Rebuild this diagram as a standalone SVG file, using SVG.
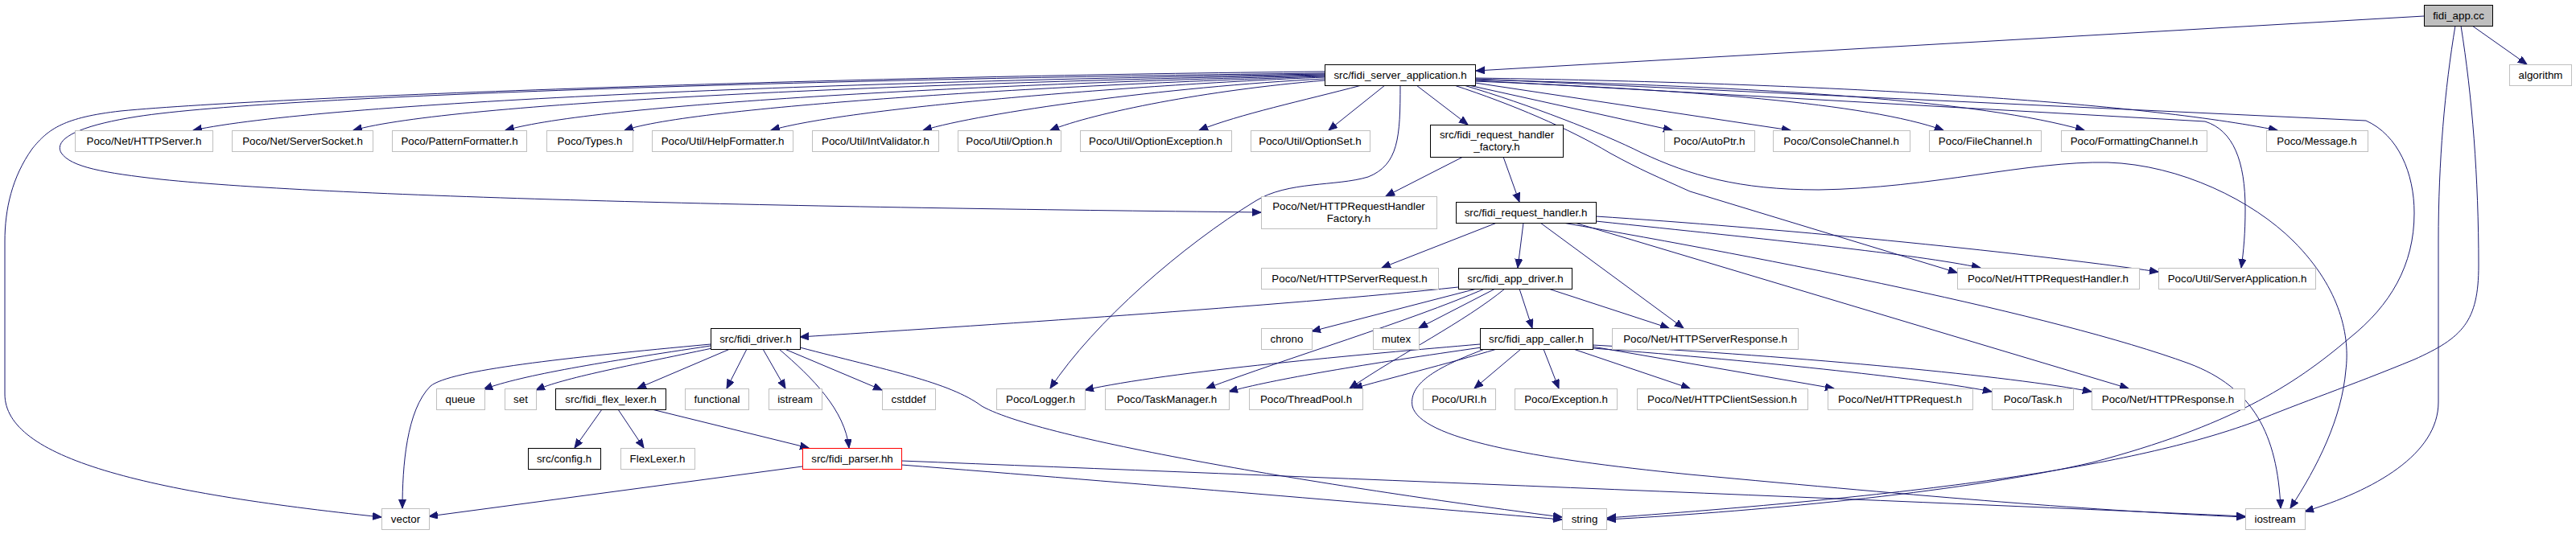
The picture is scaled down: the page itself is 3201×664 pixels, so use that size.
<svg xmlns="http://www.w3.org/2000/svg" width="3201" height="664" viewBox="0 0 3201 664">
<style>
text{font-family:"Liberation Sans",Arial,Helvetica,sans-serif;font-size:13.33px;text-anchor:middle;fill:#000}
.n rect{fill:#fff;stroke:#bfbfbf;stroke-width:1}
.s rect{fill:#fff;stroke:#000;stroke-width:1}
.r rect{fill:#bfbfbf;stroke:#000;stroke-width:1}
.t rect{fill:#fff;stroke:#ff0000;stroke-width:1}
#edges path{fill:none;stroke:#191970;stroke-width:1;marker-end:url(#a)}
</style>
<defs>
<marker id="a" markerWidth="12" markerHeight="10" refX="11" refY="4.5" orient="auto" markerUnits="userSpaceOnUse"><path d="M0,0 L11,4.5 L0,9 z" fill="#191970" stroke="#191970" stroke-width="1"/></marker>
</defs>
<rect width="3201" height="664" fill="#fff"/>
<g id="edges">
<path d="M3012,20 L1834,88"/>
<path d="M3072,32 L3140,80"/>
<path d="M3051,32 C3038,110 3030,200 3030,300 L3030,500 C3030,565 2950,610 2864,636"/>
<path d="M3058,32 C3072,120 3080,220 3080,330 C3080,400 3060,420 3000,447 C2920,480 2860,500 2800,525 C2650,580 2400,615 1997,644"/>
<path d="M1646,92 C1000,102 400,128 240,162"/>
<path d="M1646,93 C1100,104 560,128 439,162"/>
<path d="M1646,94 C1200,105 740,130 628,162"/>
<path d="M1646,95 C1300,106 860,133 776,162"/>
<path d="M1646,96 C1400,106 1050,135 958,162"/>
<path d="M1646,98 C1450,108 1220,140 1147,162"/>
<path d="M1646,100 C1500,112 1360,140 1305,162"/>
<path d="M1692,106 C1620,125 1540,142 1490,162"/>
<path d="M1721,106 L1651,162"/>
<path d="M1760,106 L1824,155"/>
<path d="M1825,106 L2078,162"/>
<path d="M1833,103 L2225,162"/>
<path d="M1833,101 C2100,112 2320,128 2415,162"/>
<path d="M1833,99 C2200,108 2460,125 2590,162"/>
<path d="M1833,97 C2300,104 2660,128 2830,162"/>
<path d="M1646,91 C1100,97 350,117 170,145 C100,156 66,172 76,190 C88,208 130,215 200,223 C420,246 1000,258 1567,264"/>
<path d="M1646,89 C1100,94 350,119 150,138 C80,146 60,160 40,185 C15,220 6,260 6,300 L6,490 C6,570 180,612 474,643"/>
<path d="M1740,106 C1740,170 1738,205 1700,220 C1660,232 1600,225 1560,250 C1470,305 1360,400 1305,483"/>
<path d="M1807,106 C1880,130 1950,160 2000,190 C2040,212 2060,220 2100,238 L2432,339"/>
<path d="M1819,106 C1900,130 1990,165 2040,190 C2100,218 2160,236 2260,236 C2400,234 2520,200 2619,202 C2710,205 2800,250 2850,300 C2910,360 2920,420 2915,460 C2910,520 2880,580 2846,632"/>
<path d="M1833,100 L2740,151 C2775,162 2790,200 2790,260 C2790,290 2788,312 2785,333"/>
<path d="M1833,98 L2940,150 C2980,168 3000,215 3000,265 C3000,330 2970,380 2920,420 C2850,480 2770,530 2600,575 C2450,610 2200,635 1997,646"/>
<path d="M1818,195 L1722,244"/>
<path d="M1868,195 L1888,251"/>
<path d="M1860,277 L1717,333"/>
<path d="M1893,277 L1886,333"/>
<path d="M1914,277 L2092,408"/>
<path d="M1983,269 C2200,283 2500,312 2682,338"/>
<path d="M1983,275 C2200,298 2380,316 2461,333"/>
<path d="M1942,277 C2200,322 2550,390 2720,452 C2800,482 2830,540 2834,632"/>
<path d="M1957,277 L2645,483"/>
<path d="M1812,357 C1600,380 1200,406 994,419"/>
<path d="M1835,359 L1630,412"/>
<path d="M1858,359 L1763,408"/>
<path d="M1845,359 C1750,400 1600,445 1499,483"/>
<path d="M1870,359 C1820,400 1740,440 1677,483"/>
<path d="M1888,359 L1904,408"/>
<path d="M1924,359 L2074,408"/>
<path d="M1839,428 C1700,440 1450,462 1348,485"/>
<path d="M1841,432 C1700,452 1580,472 1527,487"/>
<path d="M1860,434 C1800,452 1720,472 1682,483"/>
<path d="M1890,434 L1832,483"/>
<path d="M1918,434 L1937,483"/>
<path d="M1955,434 L2100,483"/>
<path d="M1979,431 L2279,483"/>
<path d="M1979,433 C2200,450 2400,472 2475,487"/>
<path d="M1979,429 C2250,444 2500,468 2599,487"/>
<path d="M1845,434 C1790,455 1750,475 1755,505 C1765,545 1900,570 2100,590 C2400,618 2600,635 2790,643"/>
<path d="M883,428 C700,445 560,460 535,480 C505,510 500,580 500,632"/>
<path d="M883,430 C750,450 650,466 601,484"/>
<path d="M885,433 C780,455 700,470 666,485"/>
<path d="M907,434 L792,483"/>
<path d="M928,434 L903,483"/>
<path d="M948,434 L976,483"/>
<path d="M968,434 C1010,470 1050,510 1055,557"/>
<path d="M975,434 L1096,485"/>
<path d="M994,432 C1100,460 1180,475 1220,505 C1300,550 1700,612 1941,643"/>
<path d="M748,509 L714,557"/>
<path d="M768,509 L800,557"/>
<path d="M810,509 L1005,557"/>
<path d="M997,580 L533,642"/>
<path d="M1120,578 C1400,600 1750,630 1941,646"/>
<path d="M1120,573 C1600,592 2300,620 2790,642"/>
</g>
<g id="n0" class="r"><rect x="3012.5" y="6.5" width="85" height="26"/><text x="3055" y="24">fidi_app.cc</text></g>
<g id="n1" class="n"><rect x="3118.5" y="80.5" width="77" height="26"/><text x="3157" y="98">algorithm</text></g>
<g id="n2" class="s"><rect x="1646.5" y="80.5" width="187" height="26"/><text x="1740" y="98">src/fidi_server_application.h</text></g>
<g id="n3" class="n"><rect x="93.5" y="162.5" width="171" height="26"/><text x="179" y="180">Poco/Net/HTTPServer.h</text></g>
<g id="n4" class="n"><rect x="288.5" y="162.5" width="175" height="26"/><text x="376" y="180">Poco/Net/ServerSocket.h</text></g>
<g id="n5" class="n"><rect x="487.5" y="162.5" width="167" height="26"/><text x="571" y="180">Poco/PatternFormatter.h</text></g>
<g id="n6" class="n"><rect x="679.5" y="162.5" width="107" height="26"/><text x="733" y="180">Poco/Types.h</text></g>
<g id="n7" class="n"><rect x="810.5" y="162.5" width="175" height="26"/><text x="898" y="180">Poco/Util/HelpFormatter.h</text></g>
<g id="n8" class="n"><rect x="1009.5" y="162.5" width="157" height="26"/><text x="1088" y="180">Poco/Util/IntValidator.h</text></g>
<g id="n9" class="n"><rect x="1190.5" y="162.5" width="128" height="26"/><text x="1254" y="180">Poco/Util/Option.h</text></g>
<g id="n10" class="n"><rect x="1342.5" y="162.5" width="188" height="26"/><text x="1436" y="180">Poco/Util/OptionException.h</text></g>
<g id="n11" class="n"><rect x="1554.5" y="162.5" width="148" height="26"/><text x="1628" y="180">Poco/Util/OptionSet.h</text></g>
<g id="n12" class="s"><rect x="1777.5" y="155.5" width="165" height="40"/><text x="1860" y="172">src/fidi_request_handler</text><text x="1860" y="187">_factory.h</text></g>
<g id="n13" class="n"><rect x="2068.5" y="162.5" width="112" height="26"/><text x="2124" y="180">Poco/AutoPtr.h</text></g>
<g id="n14" class="n"><rect x="2203.5" y="162.5" width="170" height="26"/><text x="2288" y="180">Poco/ConsoleChannel.h</text></g>
<g id="n15" class="n"><rect x="2397.5" y="162.5" width="139" height="26"/><text x="2467" y="180">Poco/FileChannel.h</text></g>
<g id="n16" class="n"><rect x="2561.5" y="162.5" width="181" height="26"/><text x="2652" y="180">Poco/FormattingChannel.h</text></g>
<g id="n17" class="n"><rect x="2816.5" y="162.5" width="126" height="26"/><text x="2879" y="180">Poco/Message.h</text></g>
<g id="n18" class="n"><rect x="1567.5" y="244.5" width="218" height="40"/><text x="1676" y="261">Poco/Net/HTTPRequestHandler</text><text x="1676" y="276">Factory.h</text></g>
<g id="n19" class="s"><rect x="1809.5" y="251.5" width="174" height="26"/><text x="1896" y="269">src/fidi_request_handler.h</text></g>
<g id="n20" class="n"><rect x="1567.5" y="333.5" width="220" height="26"/><text x="1677" y="351">Poco/Net/HTTPServerRequest.h</text></g>
<g id="n21" class="s"><rect x="1812.5" y="333.5" width="141" height="26"/><text x="1883" y="351">src/fidi_app_driver.h</text></g>
<g id="n22" class="n"><rect x="2432.5" y="333.5" width="226" height="26"/><text x="2545" y="351">Poco/Net/HTTPRequestHandler.h</text></g>
<g id="n23" class="n"><rect x="2682.5" y="333.5" width="195" height="26"/><text x="2780" y="351">Poco/Util/ServerApplication.h</text></g>
<g id="n24" class="s"><rect x="883.5" y="408.5" width="111" height="26"/><text x="939" y="426">src/fidi_driver.h</text></g>
<g id="n25" class="n"><rect x="1567.5" y="408.5" width="63" height="26"/><text x="1599" y="426">chrono</text></g>
<g id="n26" class="n"><rect x="1706.5" y="408.5" width="57" height="26"/><text x="1735" y="426">mutex</text></g>
<g id="n27" class="s"><rect x="1839.5" y="408.5" width="140" height="26"/><text x="1909" y="426">src/fidi_app_caller.h</text></g>
<g id="n28" class="n"><rect x="2003.5" y="408.5" width="231" height="26"/><text x="2119" y="426">Poco/Net/HTTPServerResponse.h</text></g>
<g id="n29" class="n"><rect x="542.5" y="483.5" width="60" height="26"/><text x="572" y="501">queue</text></g>
<g id="n30" class="n"><rect x="627.5" y="483.5" width="39" height="26"/><text x="647" y="501">set</text></g>
<g id="n31" class="s"><rect x="690.5" y="483.5" width="137" height="26"/><text x="759" y="501">src/fidi_flex_lexer.h</text></g>
<g id="n32" class="n"><rect x="851.5" y="483.5" width="79" height="26"/><text x="891" y="501">functional</text></g>
<g id="n33" class="n"><rect x="955.5" y="483.5" width="66" height="26"/><text x="988" y="501">istream</text></g>
<g id="n34" class="n"><rect x="1096.5" y="483.5" width="66" height="26"/><text x="1129" y="501">cstddef</text></g>
<g id="n35" class="n"><rect x="1238.5" y="483.5" width="110" height="26"/><text x="1293" y="501">Poco/Logger.h</text></g>
<g id="n36" class="n"><rect x="1373.5" y="483.5" width="154" height="26"/><text x="1450" y="501">Poco/TaskManager.h</text></g>
<g id="n37" class="n"><rect x="1552.5" y="483.5" width="141" height="26"/><text x="1623" y="501">Poco/ThreadPool.h</text></g>
<g id="n38" class="n"><rect x="1768.5" y="483.5" width="90" height="26"/><text x="1813" y="501">Poco/URI.h</text></g>
<g id="n39" class="n"><rect x="1882.5" y="483.5" width="127" height="26"/><text x="1946" y="501">Poco/Exception.h</text></g>
<g id="n40" class="n"><rect x="2034.5" y="483.5" width="212" height="26"/><text x="2140" y="501">Poco/Net/HTTPClientSession.h</text></g>
<g id="n41" class="n"><rect x="2271.5" y="483.5" width="180" height="26"/><text x="2361" y="501">Poco/Net/HTTPRequest.h</text></g>
<g id="n42" class="n"><rect x="2475.5" y="483.5" width="101" height="26"/><text x="2526" y="501">Poco/Task.h</text></g>
<g id="n43" class="n"><rect x="2599.5" y="483.5" width="190" height="26"/><text x="2694" y="501">Poco/Net/HTTPResponse.h</text></g>
<g id="n44" class="s"><rect x="656.5" y="557.5" width="90" height="26"/><text x="701" y="575">src/config.h</text></g>
<g id="n45" class="n"><rect x="771.5" y="557.5" width="92" height="26"/><text x="817" y="575">FlexLexer.h</text></g>
<g id="n46" class="t"><rect x="997.5" y="557.5" width="123" height="26"/><text x="1059" y="575">src/fidi_parser.hh</text></g>
<g id="n47" class="n"><rect x="474.5" y="632.5" width="59" height="26"/><text x="504" y="650">vector</text></g>
<g id="n48" class="n"><rect x="1941.5" y="632.5" width="55" height="26"/><text x="1969" y="650">string</text></g>
<g id="n49" class="n"><rect x="2790.5" y="632.5" width="74" height="26"/><text x="2827" y="650">iostream</text></g>
</svg>
